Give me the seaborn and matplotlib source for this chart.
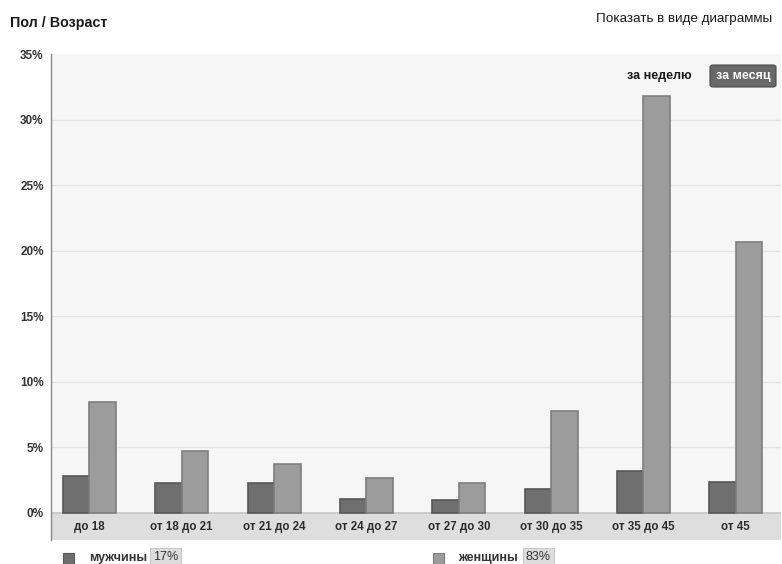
import matplotlib
matplotlib.use("Agg")
import matplotlib.pyplot as plt
import matplotlib.patches as mpatches
import pandas as pd
import seaborn as sns

# Audience breakdown by age group and gender, percent of visitors
age_groups = ["до 18", "от 18 до 21", "от 21 до 24", "от 24 до 27",
              "от 27 до 30", "от 30 до 35", "от 35 до 45", "от 45"]
men = [2.8, 2.3, 2.3, 1.1, 1.0, 1.8, 3.2, 2.4]
women = [8.5, 4.7, 3.7, 2.7, 2.3, 7.8, 31.8, 20.7]
genders = ["мужчины", "женщины"]
shares = ["17%", "83%"]
y_ticks = [0, 5, 10, 15, 20, 25, 30, 35]
y_tick_labels = ["0%", "5%", "10%", "15%", "20%", "25%", "30%", "35%"]

df = pd.DataFrame({
    "age": age_groups * 2,
    "gender": [genders[0]] * len(men) + [genders[1]] * len(women),
    "value": men + women,
})

sns.set_theme(style="white")
plt.rcParams["font.family"] = ["Liberation Sans", "DejaVu Sans"]

face = {"мужчины": "#6f6f6f", "женщины": "#9c9c9c"}
edge = {"мужчины": "#575757", "женщины": "#7e7e7e"}

W, H = 782, 564
fig = plt.figure(figsize=(W / 100, H / 100), dpi=100)
fig.patch.set_facecolor("white")

# plot area: left edge 50.7px, top 54px (35%), bottom 540px (band bottom)
ax = fig.add_axes([50.7 / W, 1 - 540 / H, (781 - 50.7) / W, (540 - 54) / H])
ax.set_facecolor("#f6f6f6")

sns.barplot(data=df, x="age", y="value", hue="gender", order=age_groups,
            hue_order=genders, palette=face, width=0.574, dodge=True,
            ax=ax, legend=False, saturation=1)

for container, g in zip(ax.containers, genders):
    for bar in container:
        bar.set_edgecolor(edge[g])
        bar.set_linewidth(1.2)
        bar.set_zorder(3)

ax.set_xlim(-0.42, 7.49)
ax.set_ylim(-2.06, 35)

# category band under the zero line
ax.axhspan(-2.06, 0, color="#dedede", zorder=1)
ax.axhline(0, color="#c6c6c6", lw=1.2, zorder=2)
for v in y_ticks[1:-1]:
    ax.axhline(v, color="#e2e2e2", lw=1, zorder=0.5)

ax.xaxis.set_zorder(5)
ax.set_yticks(y_ticks)
ax.set_yticklabels(y_tick_labels, fontsize=8.5, fontweight="bold", color="#333333")
ax.tick_params(axis="y", length=0, pad=5)
ax.tick_params(axis="x", length=0, pad=-13.8)
for lbl in ax.get_xticklabels():
    lbl.set_fontsize(8.3)
    lbl.set_fontweight("bold")
    lbl.set_color("#2b2b2b")
ax.set_xlabel("")
ax.set_ylabel("")
for s in ["top", "right", "bottom"]:
    ax.spines[s].set_visible(False)
ax.spines["left"].set_color("#8a8a8a")
ax.spines["left"].set_linewidth(1)

# header texts
fig.text(10 / W, 1 - 23 / H, "Пол / Возраст", fontsize=10.3, fontweight="bold",
         color="#1a1a1a", va="center", ha="left")
fig.text(772 / W, 1 - 19 / H, "Показать в виде диаграммы", fontsize=9.7,
         color="#1a1a1a", va="center", ha="right")

# period switch
fig.text(659 / W, 1 - 76 / H, "за неделю", fontsize=9, fontweight="bold",
         color="#1a1a1a", va="center", ha="center")
fig.patches.append(mpatches.FancyBboxPatch(
    (710 / W, 1 - 87 / H), 66 / W, 22 / H, boxstyle="round,pad=0,rounding_size=0.004",
    transform=fig.transFigure, facecolor="#686868", edgecolor="#4a4a4a", lw=0.8))
fig.text(743 / W, 1 - 76 / H, "за месяц", fontsize=9, fontweight="bold",
         color="white", va="center", ha="center")

# legend row
legend_x = [(63.3, 89, 150, 181), (432.7, 458, 523, 554)]
for g, sh, (sx, tx, bx0, bx1) in zip(genders, shares, legend_x):
    fig.patches.append(mpatches.Rectangle(
        (sx / W, 1 - 564 / H), 11 / W, 11 / H, transform=fig.transFigure,
        facecolor=face[g], edgecolor=edge[g], lw=0.8))
    fig.text(tx / W, 1 - 558.5 / H, g, fontsize=9, fontweight="bold",
             color="#333333", va="center", ha="left")
    fig.patches.append(mpatches.Rectangle(
        (bx0 / W, 1 - 566 / H), (bx1 - bx0) / W, 18 / H, transform=fig.transFigure,
        facecolor="#dddddd", edgecolor="#c8c8c8", lw=0.8))
    fig.text((bx0 + bx1) / 2 / W, 1 - 557.5 / H, sh, fontsize=9,
             color="#333333", va="center", ha="center")

fig.savefig("out.png", dpi=100)
